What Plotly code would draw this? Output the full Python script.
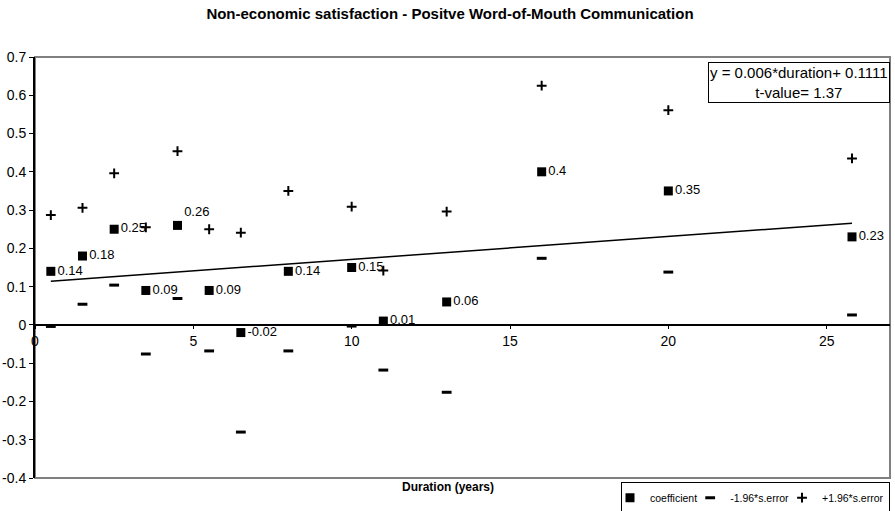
import plotly.graph_objects as go

# ---- data ----
duration = [0.5, 1.5, 2.5, 3.5, 4.5, 5.5, 6.5, 8, 10, 11, 13, 16, 20, 25.8]
coefficient = [0.14, 0.18, 0.25, 0.09, 0.26, 0.09, -0.02, 0.14, 0.15, 0.01, 0.06, 0.4, 0.35, 0.23]
lower = [-0.004, 0.054, 0.104, -0.076, 0.069, -0.068, -0.28, -0.068, -0.003, -0.118, -0.176, 0.174, 0.138, 0.026]
upper = [0.287, 0.306, 0.396, 0.255, 0.454, 0.25, 0.241, 0.35, 0.309, 0.142, 0.296, 0.625, 0.561, 0.435]
slope = 0.006
intercept = 0.1111
t_value = 1.37

y_tickvals = [0.7, 0.6, 0.5, 0.4, 0.3, 0.2, 0.1, 0, -0.1, -0.2, -0.3, -0.4]
y_ticktext = ["0.7", "0.6", "0.5", "0.4", "0.3", "0.2", "0.1", "0", "-0.1", "-0.2", "-0.3", "-0.4"]
x_tickvals = [0, 5, 10, 15, 20, 25]
x_ticktext = ["0", "5", "10", "15", "20", "25"]

title = "Non-economic satisfaction - Positve Word-of-Mouth Communication"
x_title = "Duration (years)"

FONT = "Liberation Sans, Arial, sans-serif"
Y_MIN, Y_MAX = -0.4, 0.7
X_MIN, X_MAX = 0, 27

labels = [f"{v:g}" for v in coefficient]
positions = ["middle right"] * len(coefficient)
positions[coefficient.index(0.26)] = "top right"

fig = go.Figure()

# trend line
x0, x1 = min(duration), max(duration)
fig.add_trace(go.Scatter(
    x=[x0, x1], y=[slope * x0 + intercept, slope * x1 + intercept],
    mode="lines", line=dict(color="black", width=1.5),
    showlegend=False, hoverinfo="skip"))

fig.add_trace(go.Scatter(
    x=duration, y=coefficient, name="coefficient",
    mode="markers+text", text=labels, textposition=positions,
    textfont=dict(family=FONT, size=13, color="black"),
    marker=dict(symbol="square", size=9, color="black")))

fig.add_trace(go.Scatter(
    x=duration, y=lower, name="-1.96*s.error", mode="markers",
    marker=dict(symbol="line-ew", size=7, color="black",
                line=dict(color="black", width=3))))

fig.add_trace(go.Scatter(
    x=duration, y=upper, name="+1.96*s.error", mode="markers",
    marker=dict(symbol="cross-thin", size=7, color="black",
                line=dict(color="black", width=2))))

zero_pos = (0 - Y_MIN) / (Y_MAX - Y_MIN)

fig.update_layout(
    width=895, height=511,
    margin=dict(l=35, r=5, t=57, b=33, autoexpand=False),
    paper_bgcolor="white", plot_bgcolor="white",
    font=dict(family=FONT, size=13, color="black"),
    title=dict(text=f"<b>{title}</b>", x=450 / 895, xref="container", xanchor="center",
               y=1 - 14 / 511, yref="container", yanchor="middle",
               font=dict(family=FONT, size=15, color="black")),
    xaxis=dict(range=[X_MIN, X_MAX], anchor="free", position=zero_pos,
               showline=True, linecolor="black", linewidth=2,
               ticks="outside", ticklen=3, tickcolor="black",
               tickvals=x_tickvals, ticktext=x_ticktext,
               showgrid=False, zeroline=False, automargin=False,
               tickfont=dict(family=FONT, size=14, color="black")),
    yaxis=dict(range=[Y_MIN, Y_MAX], domain=[0, 1],
               showline=True, linecolor="black", linewidth=2,
               ticks="outside", ticklen=4, tickcolor="black",
               tickvals=y_tickvals, ticktext=y_ticktext,
               showgrid=False, zeroline=False, automargin=False,
               tickfont=dict(family=FONT, size=14, color="black")),
    legend=dict(orientation="h", x=1, xanchor="right", y=-0.01, yanchor="top",
                bordercolor="black", borderwidth=1, bgcolor="white",
                font=dict(family=FONT, size=10.5, color="black"),
                itemwidth=30, tracegroupgap=0, indentation=-12,
                entrywidth=0),
    shapes=[dict(type="rect", xref="paper", yref="paper", x0=0, x1=1, y0=0, y1=1,
                 line=dict(color="#808080", width=2), layer="below")],
    annotations=[
        dict(text=f"<b>{x_title}</b>", xref="paper", yref="paper",
             x=(448 - 35) / 855, y=-9 / 421, xanchor="center", yanchor="middle",
             showarrow=False, font=dict(family=FONT, size=12, color="black")),
        dict(text=f"y = {slope:g}*duration+ {intercept:g}<br>t-value= {t_value:g}",
             xref="paper", yref="paper", x=1, y=1 - 5 / 421,
             xanchor="right", yanchor="top", align="center", showarrow=False,
             bordercolor="black", borderwidth=1, borderpad=1, bgcolor="white",
             font=dict(family=FONT, size=15, color="black")),
    ],
)

fig.write_html("out.html", config={"displayModeBar": False},
               post_script="document.body.style.margin='0';document.body.style.overflow='hidden';")
